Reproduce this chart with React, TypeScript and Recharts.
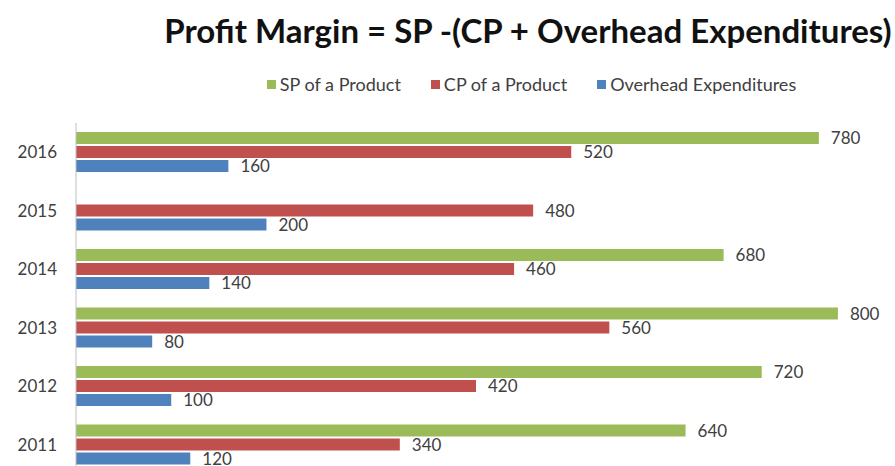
import React from 'react';
import { BarChart, Bar, XAxis, YAxis, Legend, LabelList } from 'recharts';

// ─── Data ─────────────────────────────────────────────────────────────────────

const years = ['2016', '2015', '2014', '2013', '2012', '2011'];
const spValues = [780, null, 680, 800, 720, 640];
const cpValues = [520, 480, 460, 560, 420, 340];
const overheadValues = [160, 200, 140, 80, 100, 120];

const SERIES = [
  { key: 'sp', name: 'SP of a Product', color: '#9bbb59' },
  { key: 'cp', name: 'CP of a Product', color: '#c0504d' },
  { key: 'oh', name: 'Overhead Expenditures', color: '#4f81bd' },
];

const rows = years.map((year, i) => ({
  year,
  sp: spValues[i],
  cp: cpValues[i],
  oh: overheadValues[i],
}));

const FONT = 'Lato, "Open Sans", sans-serif';

// ─── Legend ───────────────────────────────────────────────────────────────────

function LegendRow(): React.ReactElement {
  return (
    <div style={{ display: 'flex', justifyContent: 'center', gap: 30, height: 20, alignItems: 'center' }}>
      {SERIES.map((s) => (
        <span key={s.key} style={{ display: 'flex', alignItems: 'center', fontSize: 18, color: '#404040', fontFamily: FONT }}>
          <span style={{ width: 9, height: 9, background: s.color, marginRight: 4, display: 'inline-block' }} />
          {s.name}
        </span>
      ))}
    </div>
  );
}

// ─── Component ────────────────────────────────────────────────────────────────

export default function App(): React.ReactElement {
  return (
    <div style={{ position: 'absolute', left: 0, top: 0, width: 895, height: 476, background: '#fff' }}>
      <div
        style={{
          position: 'absolute',
          left: 0,
          top: 10,
          width: 1056,
          textAlign: 'center',
          whiteSpace: 'nowrap',
          fontFamily: FONT,
          fontWeight: 700,
          fontSize: 33,
          color: '#111',
        }}
      >
        Profit Margin = SP -(CP + Overhead Expenditures)
      </div>
      <BarChart
        width={895}
        height={476}
        data={rows}
        layout="vertical"
        margin={{ top: 103, right: 19, left: 0, bottom: 2 }}
        barSize={12}
        barGap={2}
      >
        <XAxis type="number" domain={[0, 840]} hide />
        <YAxis
          type="category"
          dataKey="year"
          width={76}
          tickLine={false}
          tickMargin={13}
          axisLine={{ stroke: '#bfbfbf' }}
          tick={{ fill: '#404040', fontSize: 17, fontFamily: FONT }}
        />
        <Legend
          verticalAlign="top"
          content={<LegendRow />}
          wrapperStyle={{ left: 0, top: 74, width: 1063 }}
        />
        {SERIES.map((s) => (
          <Bar key={s.key} dataKey={s.key} name={s.name} fill={s.color} isAnimationActive={false}>
            <LabelList
              dataKey={s.key}
              position="right"
              offset={12}
              fill="#404040"
              fontSize={17}
              fontFamily={FONT}
            />
          </Bar>
        ))}
      </BarChart>
    </div>
  );
}
